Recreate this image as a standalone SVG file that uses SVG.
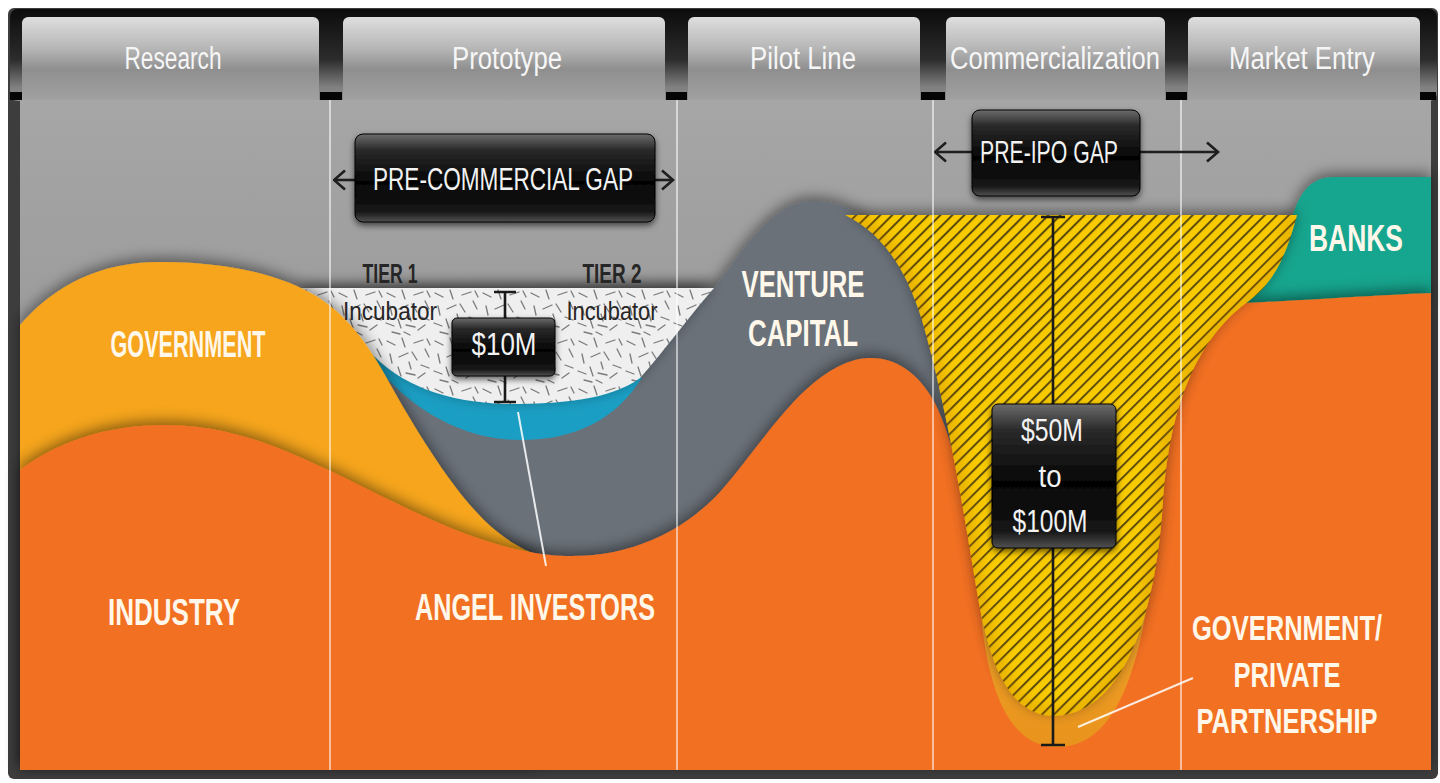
<svg xmlns="http://www.w3.org/2000/svg" width="1440" height="783" viewBox="0 0 1440 783">
<defs>
  <style>
    .tab { fill: url(#tabg); }
    .tabt { font-family: "Liberation Sans", Arial, sans-serif; font-size: 31px; fill: #f6f6f6; text-anchor: middle; }
    .lbl { font-family: "Liberation Sans", Arial, sans-serif; font-weight: bold; font-size: 36px; fill: #fff8ea; text-anchor: middle; }
    .dark { font-family: "Liberation Sans", Arial, sans-serif; fill: #262626; text-anchor: middle; }
    .boxt { font-family: "Liberation Sans", Arial, sans-serif; font-size: 31px; fill: #f2f2f2; text-anchor: middle; }
    .box { fill: url(#boxg); stroke: #000; stroke-width: 1; filter: url(#bsh); }
    .col { stroke: #ffffff; stroke-opacity: 0.55; stroke-width: 2; }
    .arr { stroke: #1e1e1e; stroke-width: 2.6; fill: none; }
    .dim { stroke: #1a1a1a; stroke-width: 2.6; fill: none; }
    .ptr { stroke: #ffffff; stroke-opacity: 0.85; stroke-width: 2; }
    .cap { fill: #050505; }
  </style>
  <linearGradient id="tabg" x1="0" y1="0" x2="0" y2="1">
    <stop offset="0" stop-color="#dedede"/>
    <stop offset="0.35" stop-color="#b6b6b6"/>
    <stop offset="0.58" stop-color="#8f8f8f"/>
    <stop offset="1" stop-color="#a5a5a5"/>
  </linearGradient>
  <linearGradient id="gapg" x1="0" y1="0" x2="0" y2="1">
    <stop offset="0" stop-color="#0c0c0c"/>
    <stop offset="0.55" stop-color="#2c2c2c"/>
    <stop offset="0.85" stop-color="#808080"/>
    <stop offset="1" stop-color="#8a8a8a"/>
  </linearGradient>
  <linearGradient id="bgg" x1="0" y1="0" x2="0" y2="1">
    <stop offset="0" stop-color="#a6a6a6"/>
    <stop offset="0.3" stop-color="#9d9d9d"/>
    <stop offset="1" stop-color="#8e8e8e"/>
  </linearGradient>
  <linearGradient id="boxg" x1="0" y1="0" x2="0" y2="1">
    <stop offset="0" stop-color="#6c6c6c"/>
    <stop offset="0.18" stop-color="#2a2a2a"/>
    <stop offset="0.55" stop-color="#050505"/>
    <stop offset="0.88" stop-color="#151515"/>
    <stop offset="1" stop-color="#505050"/>
  </linearGradient>
  <linearGradient id="gppg" x1="0" y1="0" x2="0" y2="1">
    <stop offset="0" stop-color="#f2a52a"/>
    <stop offset="1" stop-color="#e8931c"/>
  </linearGradient>
  <pattern id="hatch" width="8.5" height="8.5" patternUnits="userSpaceOnUse" patternTransform="rotate(45)">
    <rect width="8.5" height="8.5" fill="#f8ca00"/>
    <rect x="0" y="0" width="2" height="8.5" fill="#5a4a0a"/>
  </pattern>
  <pattern id="tex" width="48" height="48" patternUnits="userSpaceOnUse">
    <rect width="48" height="48" fill="#efefef"/>
    <g stroke="#7a7a7a" stroke-width="1.3" stroke-linecap="round">
      <line x1="3" y1="5" x2="11" y2="9"/>
      <line x1="18" y1="2" x2="21" y2="11"/>
      <line x1="30" y1="7" x2="39" y2="4"/>
      <line x1="41" y1="13" x2="45" y2="21"/>
      <line x1="6" y1="18" x2="8" y2="27"/>
      <line x1="15" y1="21" x2="24" y2="17"/>
      <line x1="28" y1="16" x2="33" y2="24"/>
      <line x1="37" y1="29" x2="45" y2="32"/>
      <line x1="2" y1="35" x2="10" y2="38"/>
      <line x1="14" y1="31" x2="17" y2="40"/>
      <line x1="22" y1="37" x2="31" y2="39"/>
      <line x1="34" y1="42" x2="41" y2="37"/>
      <line x1="8" y1="44" x2="16" y2="46"/>
      <line x1="25" y1="26" x2="27" y2="33"/>
      <line x1="43" y1="3" x2="46" y2="9"/>
      <line x1="20" y1="44" x2="26" y2="47"/>
    </g>
  </pattern>
  <clipPath id="funnelClip">
    <path d="M845,215 L1297,215 C1290,240 1280,278 1250,300 C1200,335 1170,400 1163,500 C1157,600 1130,712 1055,716 C1000,716 985,640 975,580 C962,500 945,400 922,320 C905,265 880,232 845,215 Z"/>
  </clipPath>
  <filter id="up" x="-10%" y="-20%" width="120%" height="140%">
    <feDropShadow dx="0" dy="-4" stdDeviation="7" flood-color="#000" flood-opacity="0.45"/>
  </filter>
  <filter id="bsh" x="-10%" y="-20%" width="120%" height="150%">
    <feDropShadow dx="0" dy="3" stdDeviation="3" flood-color="#000" flood-opacity="0.6"/>
  </filter>
  <filter id="soft" x="-10%" y="-10%" width="120%" height="120%">
    <feGaussianBlur stdDeviation="6"/>
  </filter>
  <marker id="chev" viewBox="0 0 14 22" refX="12.5" refY="11" markerWidth="14" markerHeight="22" markerUnits="userSpaceOnUse" orient="auto">
    <path d="M1.5,1.5 L12.5,11 L1.5,20.5" fill="none" stroke="#1e1e1e" stroke-width="2.6"/>
  </marker>
</defs>

<g id="frame">
  <rect x="8" y="8" width="1430" height="771" rx="6" fill="#3d3d3d"/>
  <rect x="10" y="9" width="1427" height="92" rx="8" fill="url(#gapg)"/>
  <rect class="cap" x="10" y="92" width="12" height="8"/>
  <rect class="cap" x="320" y="92" width="22" height="8"/>
  <rect class="cap" x="666" y="92" width="21" height="8"/>
  <rect class="cap" x="921" y="92" width="24" height="8"/>
  <rect class="cap" x="1166" y="92" width="21" height="8"/>
  <rect class="cap" x="1420" y="92" width="16" height="8"/>
</g>

<g id="tabs">
  <g id="tab-research"><rect class="tab" x="22" y="17" width="297" height="90" rx="6"/><text class="tabt" x="173" y="69" textLength="97" lengthAdjust="spacingAndGlyphs">Research</text></g>
  <g id="tab-prototype"><rect class="tab" x="343" y="17" width="322" height="90" rx="6"/><text class="tabt" x="507" y="69" textLength="110" lengthAdjust="spacingAndGlyphs">Prototype</text></g>
  <g id="tab-pilot"><rect class="tab" x="688" y="17" width="232" height="90" rx="6"/><text class="tabt" x="803" y="69" textLength="106" lengthAdjust="spacingAndGlyphs">Pilot Line</text></g>
  <g id="tab-commercialization"><rect class="tab" x="946" y="17" width="219" height="90" rx="6"/><text class="tabt" x="1055" y="69" textLength="210" lengthAdjust="spacingAndGlyphs">Commercialization</text></g>
  <g id="tab-market"><rect class="tab" x="1188" y="17" width="232" height="90" rx="6"/><text class="tabt" x="1302" y="69" textLength="146" lengthAdjust="spacingAndGlyphs">Market Entry</text></g>
</g>

<rect id="plot-bg" x="20" y="100" width="1411" height="670" fill="url(#bgg)"/>

<g id="regions">
  <g id="venture-capital">
    <path filter="url(#up)" fill="#6a7179" d="M300,292 L714,288 C740,255 770,203 810,201 C850,199 880,225 905,265 C930,310 955,400 975,520 L990,620 L300,620 Z"/>
  </g>
  <g id="banks">
    <path filter="url(#up)" fill="#13a58e" d="M1210,330 L1293,215 C1300,193 1310,177 1335,177 L1431,177 L1431,300 Z"/>
  </g>
  <g id="angel-investors">
    <path fill="#1b9ec3" d="M340,305 C370,380 440,440 520,440 C575,440 615,420 642,378 Z"/>
  </g>
  <g id="incubator">
    <path filter="url(#up)" fill="url(#tex)" d="M298,288 L714,288 C690,315 665,350 640,378 C610,400 560,404 507,404 C445,402 400,385 368,350 C345,325 320,300 298,288 Z"/>
  </g>
  <g id="government">
    <path filter="url(#up)" fill="#f6a51c" d="M20,325 C55,285 100,262 160,262 C220,262 270,272 305,290 C335,305 360,330 385,375 C410,420 440,470 470,505 C490,528 510,545 540,556 L540,770 L20,770 Z"/>
  </g>
  <g id="industry">
    <path filter="url(#up)" fill="#f26f22" d="M20,470 C60,440 110,425 165,425 C235,425 290,452 345,478 C420,515 490,553 565,556 C625,558 680,535 720,492 C760,448 800,375 855,360 C890,352 915,370 932,398 C948,425 958,470 975,540 L1050,600 L1150,420 L1170,340 C1185,318 1210,306 1245,303 C1310,300 1380,295 1431,293 L1431,770 L20,770 Z"/>
  </g>
  <g id="gov-private-partnership">
    <path fill="url(#gppg)" d="M980,600 C985,680 1005,747 1057,747 C1112,747 1135,680 1148,600 Z"/>
  </g>
  <g id="pre-ipo-funnel">
    <path filter="url(#up)" fill="url(#hatch)" d="M845,215 L1297,215 C1290,240 1280,278 1250,300 C1200,335 1170,400 1163,500 C1157,600 1130,712 1055,716 C1000,716 985,640 975,580 C962,500 945,400 922,320 C905,265 880,232 845,215 Z"/>
    <g clip-path="url(#funnelClip)">
      <path filter="url(#soft)" fill="none" stroke="#c07000" stroke-opacity="0.25" stroke-width="18" d="M1297,215 C1290,240 1280,278 1250,300 C1200,335 1170,400 1163,500 C1157,600 1130,712 1055,716 C1000,716 985,640 975,580 C962,500 945,400 922,320 C905,265 880,232 845,215"/>
    </g>
  </g>
</g>

<g id="grid">
  <line class="col" x1="330" y1="100" x2="330" y2="770"/>
  <line class="col" x1="677" y1="100" x2="677" y2="770"/>
  <line class="col" x1="933" y1="100" x2="933" y2="770"/>
  <line class="col" x1="1181" y1="100" x2="1181" y2="770"/>
</g>

<g id="connectors">
  <line class="arr" x1="355" y1="180" x2="334" y2="180" marker-end="url(#chev)"/>
  <line class="arr" x1="655" y1="180" x2="673" y2="180" marker-end="url(#chev)"/>
  <line class="arr" x1="972" y1="152" x2="935" y2="152" marker-end="url(#chev)"/>
  <line class="arr" x1="1140" y1="152" x2="1218" y2="152" marker-end="url(#chev)"/>
  <path class="dim" d="M505,292 V402 M494,292 H516 M494,402 H516"/>
  <path class="dim" d="M1053,217 V745 M1041,217 H1065 M1041,745 H1065"/>
  <line class="ptr" x1="518" y1="412" x2="546" y2="566"/>
  <line class="ptr" x1="1193" y1="678" x2="1078" y2="727"/>
</g>

<g id="labels">
  <text class="lbl" x="188" y="357" textLength="155" lengthAdjust="spacingAndGlyphs">GOVERNMENT</text>
  <text class="lbl" x="174" y="625" textLength="132" lengthAdjust="spacingAndGlyphs">INDUSTRY</text>
  <text class="lbl" x="535" y="620" textLength="240" lengthAdjust="spacingAndGlyphs">ANGEL INVESTORS</text>
  <text class="lbl" x="803" y="297" textLength="123" lengthAdjust="spacingAndGlyphs">VENTURE</text>
  <text class="lbl" x="803" y="346" textLength="110" lengthAdjust="spacingAndGlyphs">CAPITAL</text>
  <text class="lbl" x="1356" y="251" textLength="94" lengthAdjust="spacingAndGlyphs">BANKS</text>
  <g transform="translate(1287,0) scale(0.71,1)">
    <text class="lbl" x="0" y="640" font-size="34">GOVERNMENT/</text>
    <text class="lbl" x="0" y="687" font-size="34">PRIVATE</text>
    <text class="lbl" x="0" y="733" font-size="34">PARTNERSHIP</text>
  </g>
  <text class="dark" x="390" y="283" font-size="27" font-weight="bold" textLength="55" lengthAdjust="spacingAndGlyphs">TIER 1</text>
  <text class="dark" x="390" y="320" font-size="25" textLength="94" lengthAdjust="spacingAndGlyphs">Incubator</text>
  <text class="dark" x="612" y="283" font-size="27" font-weight="bold" textLength="59" lengthAdjust="spacingAndGlyphs">TIER 2</text>
  <text class="dark" x="612" y="320" font-size="25" textLength="91" lengthAdjust="spacingAndGlyphs">Incubator</text>
</g>

<g id="box-pre-commercial">
  <rect class="box" x="355" y="134" width="300" height="88" rx="8"/>
  <text class="boxt" x="503" y="190" textLength="260" lengthAdjust="spacingAndGlyphs">PRE-COMMERCIAL GAP</text>
</g>
<g id="box-pre-ipo">
  <rect class="box" x="972" y="110" width="168" height="86" rx="8"/>
  <text class="boxt" x="1049" y="163" textLength="138" lengthAdjust="spacingAndGlyphs">PRE-IPO GAP</text>
</g>
<g id="box-10m">
  <rect class="box" x="452" y="318" width="103" height="58" rx="5"/>
  <text class="boxt" x="504" y="355" font-size="33" textLength="65" lengthAdjust="spacingAndGlyphs">$10M</text>
</g>
<g id="box-50m">
  <rect class="box" x="992" y="404" width="124" height="144" rx="6"/>
  <text class="boxt" x="1052" y="441" textLength="62" lengthAdjust="spacingAndGlyphs">$50M</text>
  <text class="boxt" x="1050" y="487" textLength="23" lengthAdjust="spacingAndGlyphs">to</text>
  <text class="boxt" x="1050" y="532" textLength="75" lengthAdjust="spacingAndGlyphs">$100M</text>
</g>
</svg>
